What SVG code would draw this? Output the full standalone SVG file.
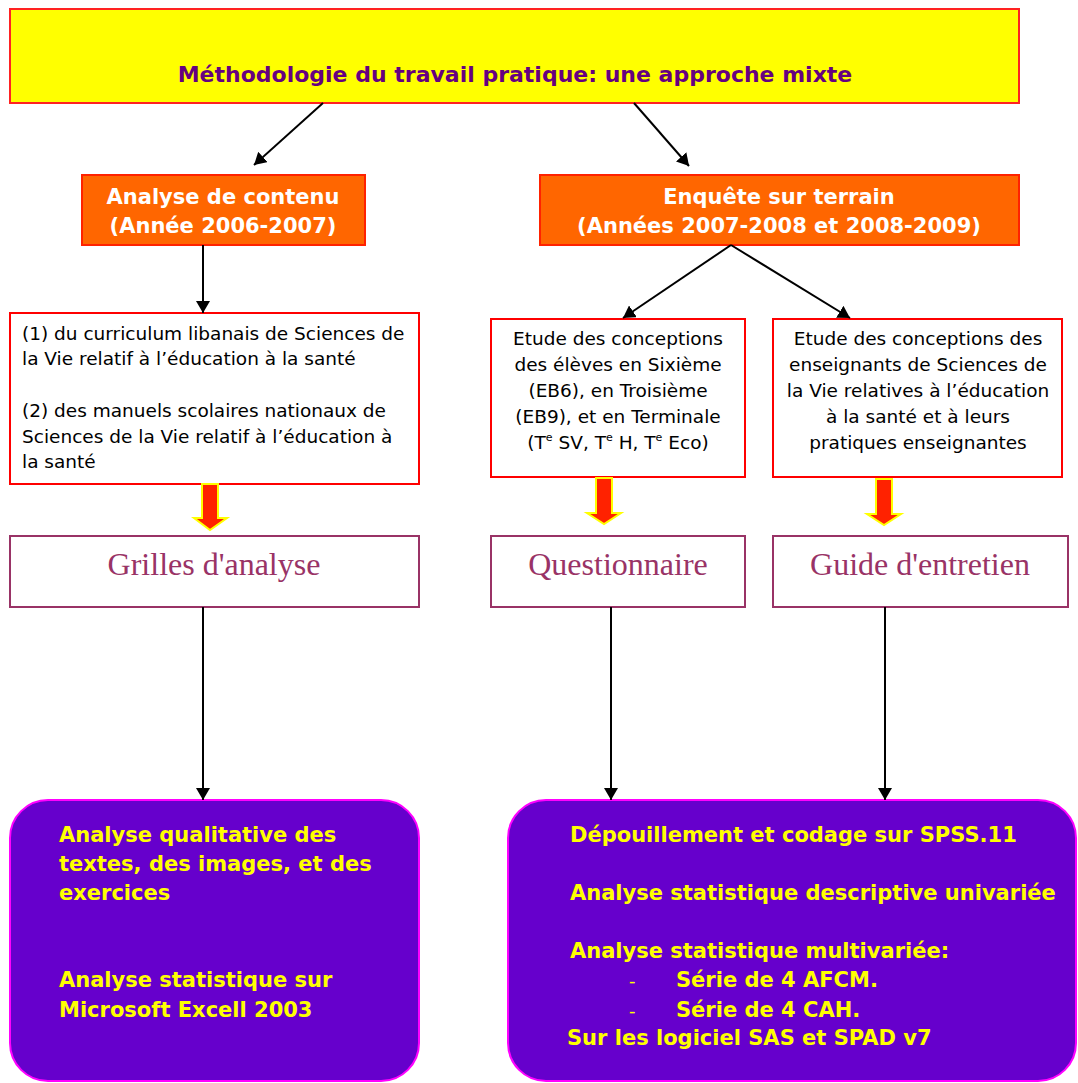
<svg xmlns="http://www.w3.org/2000/svg" width="1078" height="1083" viewBox="0 0 1078 1083">
<style>
.bold{font-family:"DejaVu Sans","Verdana",sans-serif;font-weight:bold}
.reg{font-family:"DejaVu Sans","Verdana",sans-serif;font-size:18.5px;fill:#000}
.orange{fill:#FF6600;stroke:#FF2200;stroke-width:2}
.wt{font-size:21px;fill:#FFFFFF;text-anchor:middle}
.redbox{fill:#FFFFFF;stroke:#FF0000;stroke-width:2}
.toolbox{fill:#FFFFFF;stroke:#993366;stroke-width:2}
.serif{font-family:"Liberation Serif","Times New Roman",serif;font-size:32px;fill:#993366;text-anchor:middle}
.purple{fill:#6600CC;stroke:#FF00FF;stroke-width:2}
.yt{font-size:21px;fill:#FFFF00}
.conn{stroke:#000;stroke-width:2;fill:none}
.big{fill:#FF2200;stroke:#FFFF00;stroke-width:2}
</style>
<defs>
<marker id="ah" markerUnits="userSpaceOnUse" viewBox="0 0 12 14" refX="12" refY="7" markerWidth="12" markerHeight="14" orient="auto">
<path d="M0,0 L12,7 L0,14 z" fill="#000"/>
</marker>
</defs>
<rect width="1078" height="1083" fill="#FFFFFF"/>

<g id="title">
<rect x="10" y="9" width="1009" height="94" fill="#FFFF00" stroke="#FF2222" stroke-width="2"/>
<text class="bold" x="515" y="82" font-size="22" fill="#660080" text-anchor="middle">Méthodologie du travail pratique: une approche mixte</text>
</g>

<g id="analyse-contenu">
<rect class="orange" x="82" y="175" width="283" height="70"/>
<text class="bold wt" x="223" y="204">Analyse de contenu</text>
<text class="bold wt" x="223" y="233">(Année 2006-2007)</text>
</g>

<g id="enquete-terrain">
<rect class="orange" x="540" y="175" width="479" height="70"/>
<text class="bold wt" x="779" y="204">Enquête sur terrain</text>
<text class="bold wt" x="779" y="233">(Années 2007-2008 et 2008-2009)</text>
</g>

<g id="curriculum">
<rect class="redbox" x="10" y="313" width="409" height="171"/>
<text class="reg" x="22" y="340">(1) du curriculum libanais de Sciences de</text>
<text class="reg" x="22" y="365">la Vie relatif à l’éducation à la santé</text>
<text class="reg" x="22" y="417">(2) des manuels scolaires nationaux de</text>
<text class="reg" x="22" y="443">Sciences de la Vie relatif à l’éducation à</text>
<text class="reg" x="22" y="468">la santé</text>
</g>

<g id="etude-eleves">
<rect class="redbox" x="491" y="319" width="254" height="158"/>
<g class="reg" text-anchor="middle">
<text x="618" y="345">Etude des conceptions</text>
<text x="618" y="371">des élèves en Sixième</text>
<text x="618" y="397">(EB6), en Troisième</text>
<text x="618" y="423">(EB9), et en Terminale</text>
<text x="618" y="449">(T<tspan font-size="11" dy="-8">e</tspan><tspan dy="8"> SV, T</tspan><tspan font-size="11" dy="-8">e</tspan><tspan dy="8"> H, T</tspan><tspan font-size="11" dy="-8">e</tspan><tspan dy="8"> Eco)</tspan></text>
</g>
</g>

<g id="etude-enseignants">
<rect class="redbox" x="773" y="319" width="289" height="158"/>
<g class="reg" text-anchor="middle">
<text x="918" y="345">Etude des conceptions des</text>
<text x="918" y="371">enseignants de Sciences de</text>
<text x="918" y="397">la Vie relatives à l’éducation</text>
<text x="918" y="423">à la santé et à leurs</text>
<text x="918" y="449">pratiques enseignantes</text>
</g>
</g>

<g id="grilles">
<rect class="toolbox" x="10" y="536" width="409" height="71"/>
<text class="serif" x="214" y="575">Grilles d'analyse</text>
</g>

<g id="questionnaire">
<rect class="toolbox" x="491" y="536" width="254" height="71"/>
<text class="serif" x="618" y="575">Questionnaire</text>
</g>

<g id="guide">
<rect class="toolbox" x="773" y="536" width="295" height="71"/>
<text class="serif" x="920" y="575">Guide d'entretien</text>
</g>

<g id="resultats-contenu">
<rect class="purple" x="10" y="800" width="409" height="281" rx="38" ry="38"/>
<g class="bold yt">
<text x="59" y="842">Analyse qualitative des</text>
<text x="59" y="871">textes, des images, et des</text>
<text x="59" y="900">exercices</text>
<text x="59" y="987">Analyse statistique sur</text>
<text x="59" y="1017">Microsoft Excell 2003</text>
</g>
</g>

<g id="resultats-enquete">
<rect class="purple" x="508" y="800" width="568" height="281" rx="38" ry="38"/>
<g class="bold yt">
<text x="570" y="842">Dépouillement et codage sur SPSS.11</text>
<text x="570" y="900">Analyse statistique descriptive univariée</text>
<text x="570" y="958">Analyse statistique multivariée:</text>
<text x="676" y="987">Série de 4 AFCM.</text>
<text x="676" y="1017">Série de 4 CAH.</text>
<text x="567" y="1045">Sur les logiciel SAS et SPAD v7</text>
</g>
<text x="629" y="987" font-family="DejaVu Sans, sans-serif" font-size="18" fill="#FFFF00">-</text>
<text x="629" y="1017" font-family="DejaVu Sans, sans-serif" font-size="18" fill="#FFFF00">-</text>
</g>

<g id="connectors">
<line class="conn" x1="323" y1="103" x2="254" y2="165" marker-end="url(#ah)"/>
<line class="conn" x1="634" y1="103" x2="689" y2="166" marker-end="url(#ah)"/>
<line class="conn" x1="203" y1="245" x2="203" y2="313" marker-end="url(#ah)"/>
<line class="conn" x1="731" y1="245" x2="623" y2="318" marker-end="url(#ah)"/>
<line class="conn" x1="731" y1="245" x2="850" y2="318" marker-end="url(#ah)"/>
<line class="conn" x1="203" y1="607" x2="203" y2="800" marker-end="url(#ah)"/>
<line class="conn" x1="611" y1="607" x2="611" y2="800" marker-end="url(#ah)"/>
<line class="conn" x1="885" y1="607" x2="885" y2="800" marker-end="url(#ah)"/>
<polygon class="big" points="202,484 218,484 218,518 227,518 210,530 194,518 202,518"/>
<polygon class="big" points="596,478 612,478 612,513 621,513 604,524 587,513 596,513"/>
<polygon class="big" points="876,479 892,479 892,514 901,514 884,525 867,514 876,514"/>
</g>
</svg>
